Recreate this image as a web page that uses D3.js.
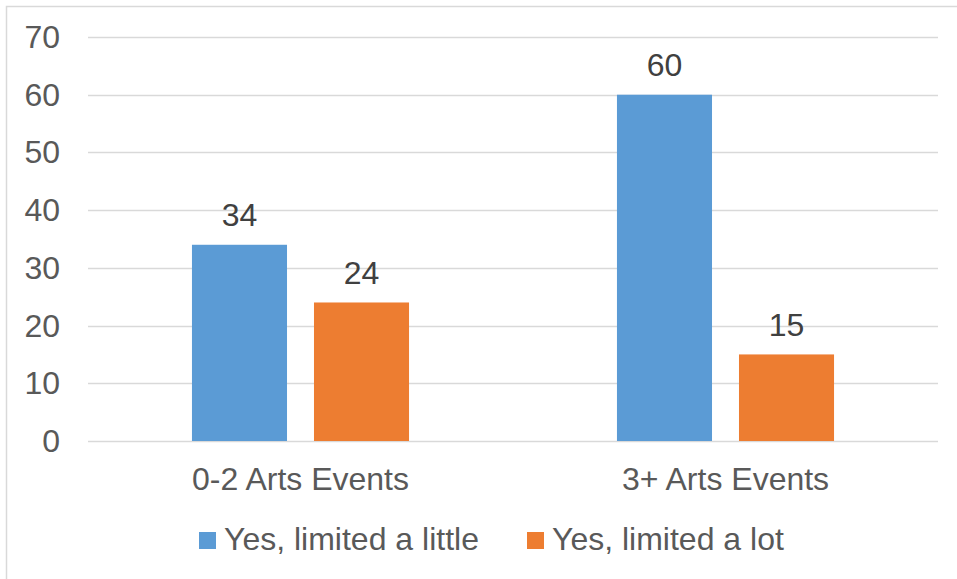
<!DOCTYPE html>
<html><head><meta charset="utf-8">
<script src="https://cdn.jsdelivr.net/npm/d3@7"></script>
<style>body{margin:0;background:#fff}svg{display:block}</style>
</head><body>
<script>
const categories = ["0-2 Arts Events", "3+ Arts Events"];
const seriesNames = ["Yes, limited a little", "Yes, limited a lot"];
const littleValues = [34, 60];
const lotValues = [24, 15];
const yTicks = [0, 10, 20, 30, 40, 50, 60, 70];
const colors = ["#5B9BD5", "#ED7D31"];

(function(){
const W = 957, H = 579;
const mLeft = 88, mRight = 938, mTop = 37, mBottom = 441;
const fs = 32;
const svg = d3.select("body").append("svg").attr("width", W).attr("height", H);
svg.append("rect").attr("x", 6.5).attr("y", 6.5).attr("width", W).attr("height", H)
  .attr("fill", "#fff").attr("stroke", "#D9D9D9").attr("stroke-width", 1.5);

const y = d3.scaleLinear().domain([0, 70]).range([mBottom, mTop]);
const x0 = d3.scaleBand().domain(categories).range([mLeft, mRight]).paddingInner(0).paddingOuter(0);
const x1 = d3.scaleBand().domain(seriesNames).range([0, x0.bandwidth()]).paddingInner(0.221).paddingOuter(0.852);

const font = "'Liberation Sans', Arial, sans-serif";

// gridlines
svg.append("g").selectAll("line").data(yTicks).join("line")
  .attr("x1", mLeft).attr("x2", mRight)
  .attr("y1", d => Math.round(y(d)) + 0.5).attr("y2", d => Math.round(y(d)) + 0.5)
  .attr("stroke", "#D9D9D9").attr("stroke-width", 1.5);

// y axis labels
const yAxis = d3.axisLeft(y).tickValues(yTicks).tickSize(0).tickPadding(0);
const ya = svg.append("g").attr("transform", `translate(60,0)`).call(yAxis);
ya.select(".domain").remove();
ya.selectAll("text").attr("font-family", font).attr("font-size", fs).attr("fill", "#595959").attr("dy", "0.33em");

// x axis labels
const xAxis = d3.axisBottom(x0).tickSize(0).tickPadding(0);
const xa = svg.append("g").attr("transform", `translate(0,${mBottom + 38})`).call(xAxis);
xa.select(".domain").remove();
xa.selectAll("text").attr("font-family", font).attr("font-size", fs).attr("fill", "#595959").attr("dy", "0.35em");

const data = categories.map((c, i) => ({cat: c, vals: [littleValues[i], lotValues[i]]}));
const groups = svg.append("g").selectAll("g").data(data).join("g")
  .attr("transform", d => `translate(${x0(d.cat)},0)`);
groups.selectAll("rect").data(d => d.vals.map((v, j) => ({s: seriesNames[j], v, j}))).join("rect")
  .attr("x", d => x1(d.s)).attr("width", x1.bandwidth())
  .attr("y", d => y(d.v)).attr("height", d => y(0) - y(d.v))
  .attr("fill", d => colors[d.j]);
groups.selectAll("text").data(d => d.vals.map((v, j) => ({s: seriesNames[j], v, j}))).join("text")
  .attr("x", d => x1(d.s) + x1.bandwidth() / 2).attr("y", d => y(d.v) - 30)
  .attr("dy", "0.35em").attr("text-anchor", "middle")
  .attr("font-family", font).attr("font-size", fs).attr("fill", "#404040")
  .text(d => d.v);

// legend
const legendX = [199, 527];
const lg = svg.append("g").selectAll("g").data(seriesNames).join("g")
  .attr("transform", (d, i) => `translate(${legendX[i]},532)`);
lg.append("rect").attr("width", 17).attr("height", 17).attr("fill", (d, i) => colors[i]);
lg.append("text").attr("x", 25).attr("y", 7).attr("dy", "0.35em")
  .attr("font-family", font).attr("font-size", fs).attr("fill", "#595959").text(d => d);
})();
</script>
</body></html>
